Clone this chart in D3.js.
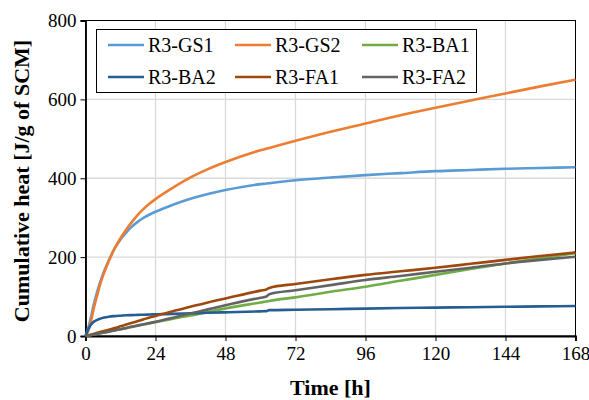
<!DOCTYPE html>
<html>
<head>
<meta charset="utf-8">
<script src="https://cdn.jsdelivr.net/npm/d3@7"></script>
<style>
  body { margin: 0; background: #fff; }
  svg { font-family: "Liberation Serif", "Times New Roman", serif; }
</style>
</head>
<body>
<svg width="589" height="400"></svg>
<script>
// Data ======================================================
var hours = [0, 1, 2, 3, 4, 5, 6, 8, 10, 12, 14, 16, 18, 20, 22, 24, 30, 36, 42, 48, 60, 62, 63, 72, 84, 96, 108, 120, 132, 144, 156, 168];

var gs1 = [0, 22, 52, 85, 112, 136, 157, 192, 222, 245, 263, 278, 290, 300, 308, 315, 333, 348, 360, 370, 385, 386.5, 387.5, 395, 402, 408, 413, 418, 421, 424, 426, 428];
var gs2 = [0, 14, 42, 75, 103, 130, 153, 190, 222, 248, 270, 290, 308, 323, 336, 347, 376, 402, 423, 441, 471, 475, 477, 495, 518, 539, 560, 579, 597, 615, 633, 650];
var ba1 = [0, 1.4, 2.8, 4.2, 5.6, 7, 8.5, 11.5, 14.5, 17, 20, 23, 26, 29, 32, 35, 44, 52, 61, 70, 85, 87.5, 89, 98, 112, 125, 140, 155, 170, 184, 197, 210];
var ba2 = [0, 18, 30, 37, 41, 44, 46, 49, 50.5, 51.5, 52.5, 53, 53.5, 54, 54.5, 55, 56, 57.5, 59, 60, 62.5, 63, 65.5, 66.5, 68, 69.5, 71, 72, 73, 74, 75, 76];
var fa1 = [0, 2, 4, 6, 8, 10, 12, 16, 20, 24.5, 29, 33.5, 38, 42.5, 47, 51, 63, 74, 85, 95, 115, 118, 122, 132, 144, 155, 164, 173, 183, 193, 203, 212];
var fa2 = [0, 1.3, 2.7, 4, 5.4, 6.8, 8.2, 11, 14, 17, 20.5, 24, 27, 30, 33, 36, 46.5, 57, 67.5, 78, 97, 100, 106, 116, 129, 142, 152, 163, 173, 184, 193, 201];

var seriesNames = ["R3-GS1", "R3-GS2", "R3-BA1", "R3-BA2", "R3-FA1", "R3-FA2"];
var seriesValues = [gs1, gs2, ba1, ba2, fa1, fa2];
var seriesColors = ["#5B9BD5", "#ED7D31", "#70AD47", "#255E91", "#9E480E", "#636363"];

var xTicks = [0, 24, 48, 72, 96, 120, 144, 168];
var yTicks = [0, 200, 400, 600, 800];

// Layout ====================================================
var svg = d3.select("svg");
var plotLeft = 85.5, plotRight = 575.5, plotTop = 20.5, plotBottom = 336;

var x = d3.scaleLinear().domain([0, 168]).range([plotLeft, plotRight]);
var y = d3.scaleLinear().domain([0, 800]).range([plotBottom, plotTop]);

// gridlines
var grid = svg.append("g").attr("class", "grid");
grid.selectAll("line.v")
  .data(xTicks.slice(1, -1))
  .enter().append("line")
  .attr("x1", d => x(d)).attr("x2", d => x(d))
  .attr("y1", plotTop).attr("y2", plotBottom)
  .attr("stroke", "#d9d9d9").attr("stroke-width", 1.3);
grid.selectAll("line.h")
  .data(yTicks.slice(1, -1))
  .enter().append("line")
  .attr("x1", plotLeft).attr("x2", plotRight)
  .attr("y1", d => y(d)).attr("y2", d => y(d))
  .attr("stroke", "#d9d9d9").attr("stroke-width", 1.3);

// plot frame
svg.append("rect")
  .attr("x", plotLeft).attr("y", plotTop)
  .attr("width", plotRight - plotLeft).attr("height", plotBottom - plotTop)
  .attr("fill", "none").attr("stroke", "#000").attr("stroke-width", 1);

// axes
var xAxis = svg.append("g")
  .attr("transform", "translate(0," + plotBottom + ")")
  .call(d3.axisBottom(x).tickValues(xTicks).tickSize(5).tickPadding(6));
var yAxis = svg.append("g")
  .attr("transform", "translate(" + plotLeft + ",0)")
  .call(d3.axisLeft(y).tickValues(yTicks).tickSize(5).tickPadding(4));

[xAxis, yAxis].forEach(function (a) {
  a.select(".domain").attr("stroke", "#000").attr("stroke-width", 1.8);
  a.selectAll(".tick line").attr("stroke", "#000").attr("stroke-width", 1);
  a.selectAll(".tick text")
    .attr("fill", "#000")
    .style("font-family", "'Liberation Serif', 'Times New Roman', serif")
    .style("font-size", "19px");
});

// lines
var line = d3.line()
  .x((d, i) => x(hours[i]))
  .y(d => y(d))
  .curve(d3.curveMonotoneX);

var plot = svg.append("g").attr("class", "lines");
seriesValues.forEach(function (vals, i) {
  plot.append("path")
    .datum(vals)
    .attr("d", line)
    .attr("fill", "none")
    .attr("stroke", seriesColors[i])
    .attr("stroke-width", 2.6)
    .attr("stroke-linejoin", "round");
});

// legend
var legend = svg.append("g").attr("class", "legend");
legend.append("rect")
  .attr("x", 96.5).attr("y", 29.5)
  .attr("width", 380).attr("height", 63)
  .attr("fill", "#fff").attr("stroke", "#000").attr("stroke-width", 1);

var colX = [108, 235, 362];
var rowY = [45, 77];
seriesNames.forEach(function (name, i) {
  var cx = colX[i % 3], cy = rowY[Math.floor(i / 3)];
  legend.append("line")
    .attr("x1", cx).attr("x2", cx + 36)
    .attr("y1", cy).attr("y2", cy)
    .attr("stroke", seriesColors[i]).attr("stroke-width", 2.6);
  legend.append("text")
    .attr("x", cx + 40).attr("y", cy)
    .attr("dy", "0.35em")
    .style("font-size", "20px")
    .text(name);
});

// axis titles
svg.append("text")
  .attr("x", (plotLeft + plotRight) / 2).attr("y", 387)
  .attr("text-anchor", "middle")
  .attr("dy", "0.35em")
  .style("font-size", "22px").style("font-weight", "bold")
  .text("Time [h]");

svg.append("text")
  .attr("transform", "translate(21,181) rotate(-90)")
  .attr("text-anchor", "middle")
  .attr("dy", "0.35em")
  .style("font-size", "22px").style("font-weight", "bold")
  .text("Cumulative heat [J/g of SCM]");
</script>
</body>
</html>
